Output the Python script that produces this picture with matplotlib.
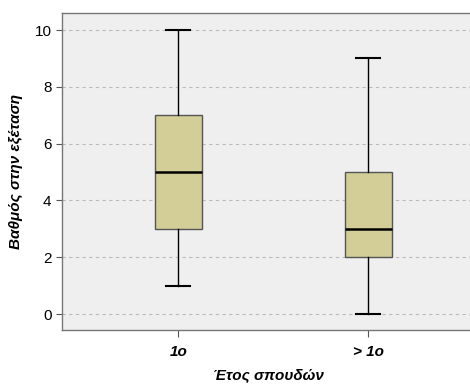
import matplotlib.pyplot as plt

plt.rcParams['font.family'] = ['Liberation Sans', 'DejaVu Sans']

groups = ['1ο', '> 1ο']
# five-number summaries: whislo, q1, median, q3, whishi
whislo = [1, 0]
q1 = [3, 2]
med = [5, 3]
q3 = [7, 5]
whishi = [10, 9]

stats = []
for i in range(len(groups)):
    stats.append({'whislo': whislo[i], 'q1': q1[i], 'med': med[i],
                  'q3': q3[i], 'whishi': whishi[i], 'fliers': []})

fig = plt.figure(figsize=(4.7, 3.87), dpi=100)
ax = fig.add_axes([62/470, 1 - 330/387, 1 - 62/470 + 0.01, (330-13)/387])
ax.set_facecolor('#efefef')

ax.bxp(stats, positions=[1, 2], widths=0.25, patch_artist=True,
       showfliers=False,
       boxprops=dict(facecolor='#d3ce97', edgecolor='#555555', linewidth=1),
       medianprops=dict(color='black', linewidth=1.8),
       whiskerprops=dict(color='black', linewidth=1),
       capprops=dict(color='black', linewidth=1.5),
       capwidths=0.125, zorder=3)

ax.set_xlim(0.388, 2.56)
ax.set_ylim(-0.56, 10.6)
ax.set_yticks([0, 2, 4, 6, 8, 10])
ax.yaxis.grid(True, linestyle=(0, (3, 3)), color='#bbbbbb', linewidth=0.8)
ax.set_axisbelow(True)

ax.set_xticks([1, 2])
ax.set_xticklabels(groups, fontsize=11, fontweight='bold', fontstyle='italic')
ax.tick_params(axis='y', labelsize=11, length=4, color='#555555')
ax.tick_params(axis='x', length=5, color='#555555', pad=6)

for s in ['left', 'bottom', 'top']:
    ax.spines[s].set_color('#777777')
    ax.spines[s].set_linewidth(1)
ax.spines['right'].set_visible(False)

ax.set_ylabel('Βαθμός στην εξέταση', fontsize=11, fontweight='bold',
              fontstyle='italic', labelpad=8)
ax.set_xlabel('Έτος σπουδών', fontsize=11, fontweight='bold',
              fontstyle='italic', labelpad=6)

fig.savefig('out.png', dpi=100)
